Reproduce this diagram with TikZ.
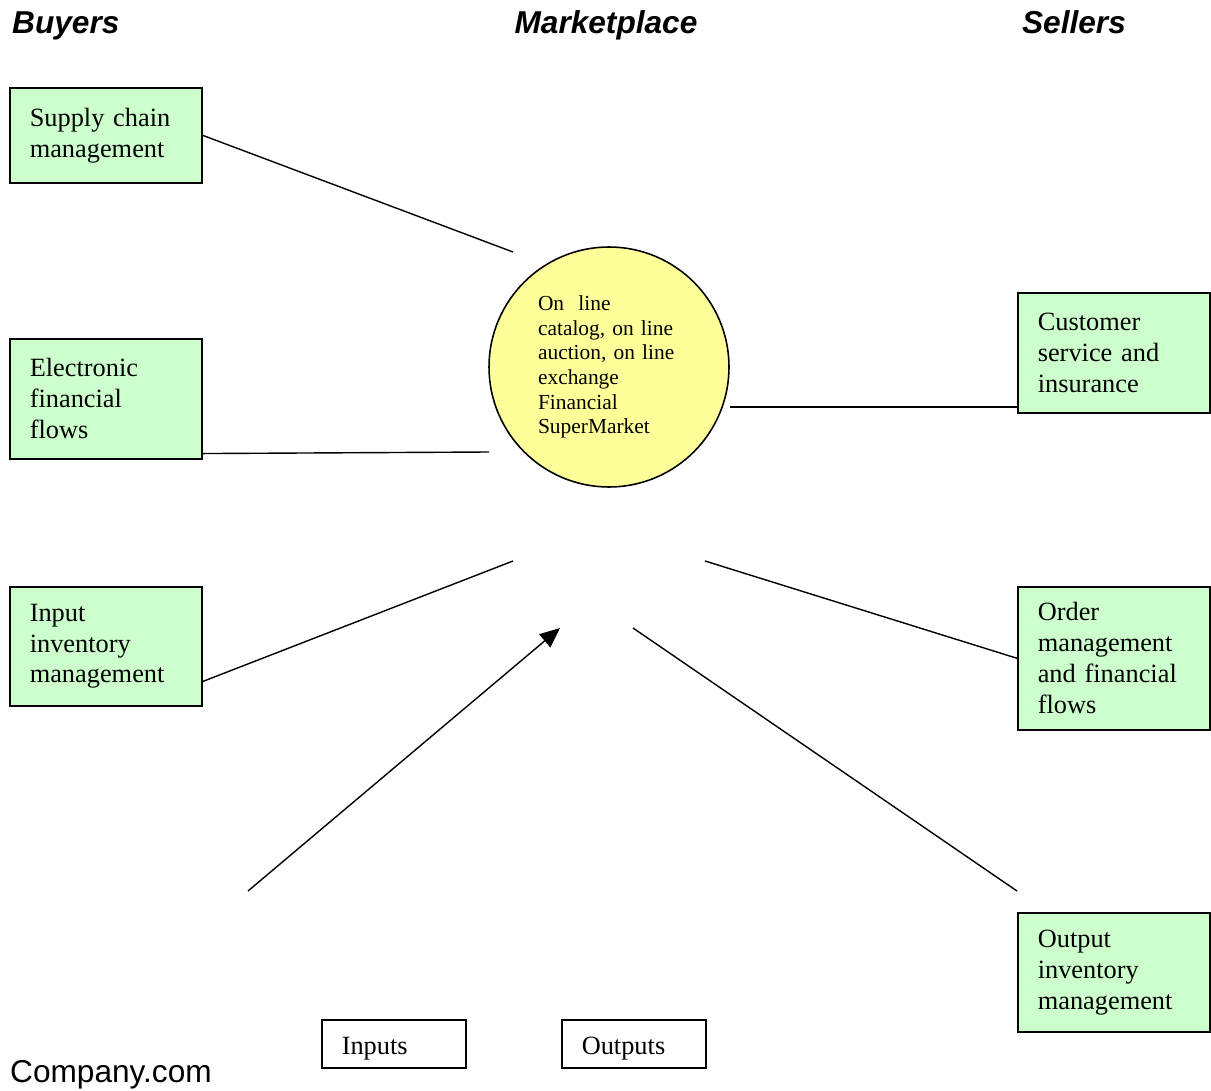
\documentclass[tikz,border=0pt]{standalone}
\usepackage{fontspec}
\setmainfont{Liberation Serif}
\newfontfamily\arialfont{Liberation Sans}
\usepackage{xcolor}
\usepackage{tikz}
\usetikzlibrary{shapes,arrows,positioning,calc,arrows.meta}
\definecolor{boxgreen}{HTML}{CCFFCC}
\definecolor{hubyellow}{HTML}{FFFF99}

\begin{document}
\begin{tikzpicture}[x=0.02cm, y=-0.02cm,
        green box/.style={rectangle, draw, line width=0.9pt, fill=boxgreen, anchor=north west,
            text width=3.04cm, inner xsep=0.4cm, align=left,
            font=\fontsize{15}{17.6}\selectfont},
        plain box/.style={rectangle, draw, line width=0.9pt, fill=white, anchor=north west,
            text width=2.08cm, inner xsep=0.4cm, align=left, minimum height=0.96cm,
            text height=0.55cm, font=\fontsize{15}{17.6}\selectfont},
        hub/.style={circle, draw, line width=0.9pt, fill=hubyellow, minimum size=4.8cm,
            text width=2.84cm, align=left, font=\fontsize{12.2}{14}\selectfont},
        heading/.style={font=\arialfont\bfseries\itshape\fontsize{18}{20}\selectfont},
        line/.style={draw, line width=0.8pt},
        arrow line/.style={draw, line width=0.8pt, -{Triangle[length=0.4cm, width=0.34cm]}}]

        \useasboundingbox (0,0) rectangle (1211,1091);

        % column headings
        \node [heading, anchor=base west] (buyers) at (6,34) {Buyers};
        \node [heading, anchor=base] (marketplace) at (606,34) {Marketplace};
        \node [heading, anchor=base] (sellers) at (1074,34) {Sellers};

        % buyer side
        \node [green box, minimum height=1.9cm] (supply) at (9,87) {Supply chain\\management};
        \node [green box, minimum height=2.4cm] (efin) at (9,338) {Electronic\\financial\\flows};
        \node [green box, minimum height=2.38cm] (input) at (9,586) {Input\\inventory\\management};

        % marketplace
        \node [hub] (market) at (609,367) {On\ \ line\\catalog, on line\\auction, on line\\exchange\\Financial\\SuperMarket};

        % seller side
        \node [green box, minimum height=2.4cm] (custserv) at (1017,292) {Customer\\service and\\insurance};
        \node [green box, minimum height=2.86cm] (order) at (1017,586) {Order\\management\\and financial\\flows};
        \node [green box, minimum height=2.38cm] (output) at (1017,912) {Output\\inventory\\management};

        % legend
        \node [plain box] (inputs) at (321,1019) {Inputs};
        \node [plain box] (outputs) at (561,1019) {Outputs};
        \node [font=\arialfont\fontsize{18}{20}\selectfont, anchor=base west] (company) at (4,1082) {Company.com};

        % free ends
        \coordinate (supply end) at (513,252);
        \coordinate (efin end) at (489,452);
        \coordinate (input end) at (513,561);
        \coordinate (order end) at (705,561);
        \coordinate (in start) at (248,891);
        \coordinate (in tip) at (560,628);
        \coordinate (out start) at (633,628);
        \coordinate (out end) at (1017,891);

        \path [line] (supply.east) -- (supply end);
        \path [line] ([yshift=0.12cm]efin.south east) -- (efin end);
        \path [line] ([yshift=0.5cm]input.south east) -- (input end);
        \path [line] ([yshift=-0.8cm]market.east) -- ([yshift=-0.8cm]market.east -| custserv.west);
        \path [line] (order end) -- (order.west);
        \path [arrow line] (in start) -- (in tip);
        \path [line] (out start) -- (out end);
    \end{tikzpicture}
\end{document}
